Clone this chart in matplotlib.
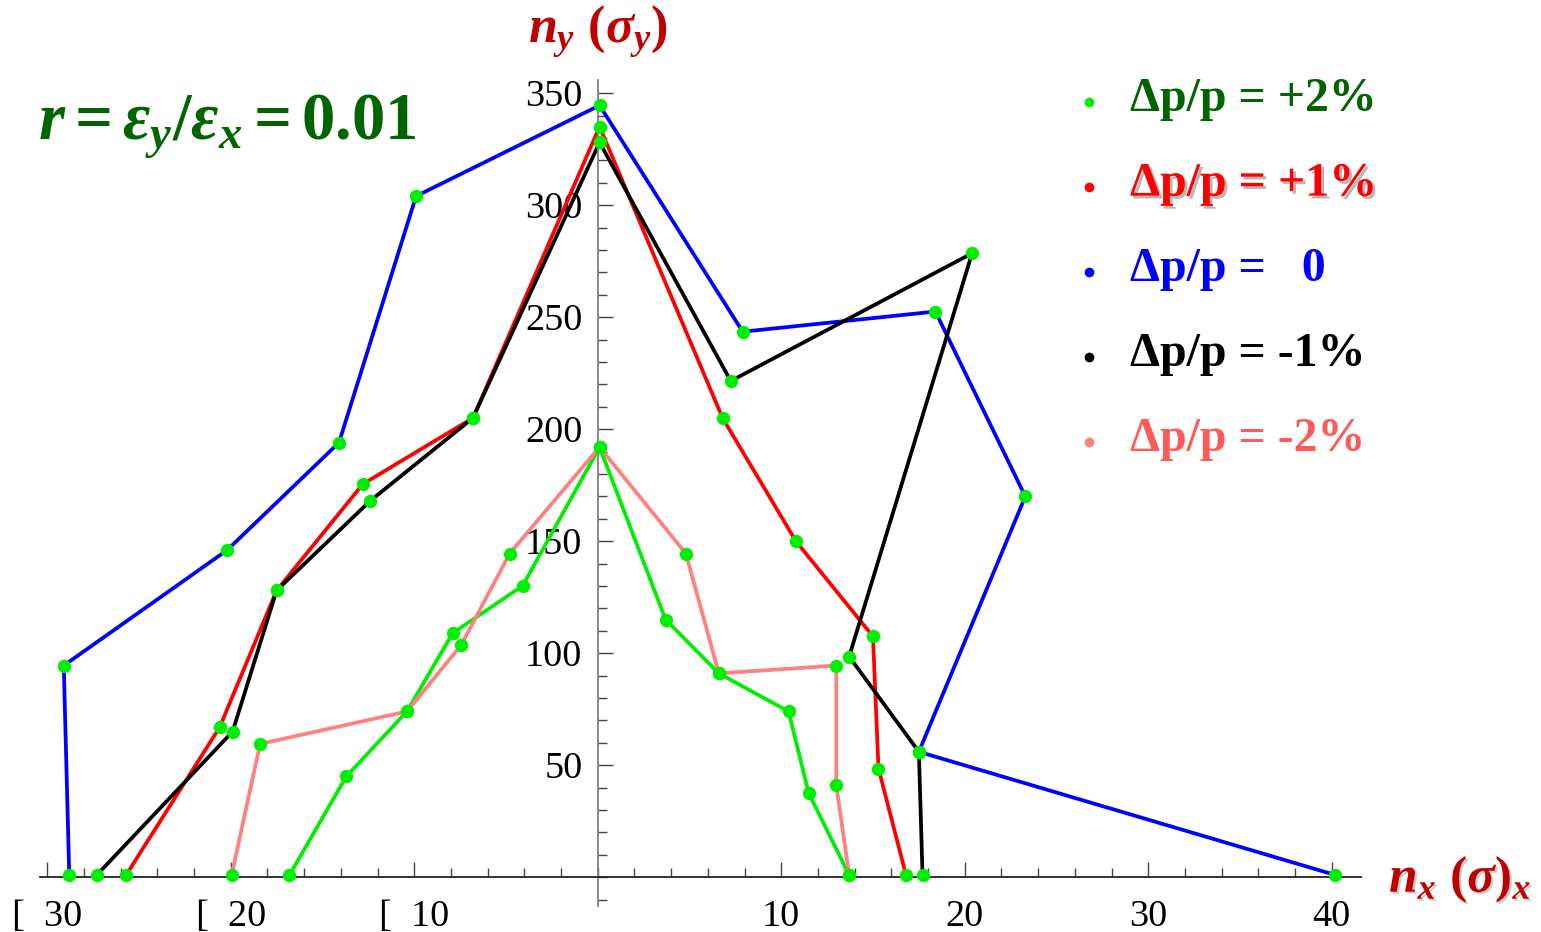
import matplotlib
matplotlib.use("Agg")
import matplotlib.pyplot as plt
import matplotlib.patheffects as pe
from matplotlib.ticker import MultipleLocator, FixedLocator

plt.rcParams["font.family"] = ["Liberation Serif", "DejaVu Serif"]
plt.rcParams["mathtext.fontset"] = "custom"
plt.rcParams["mathtext.rm"] = "Liberation Serif:bold"
plt.rcParams["mathtext.it"] = "Liberation Serif:bold:italic"
plt.rcParams["mathtext.bf"] = "Liberation Serif:bold"

# ---- data: dynamic aperture boundary (n_x, n_y) per momentum offset ---------
labels = ["Δp/p = +2%", "Δp/p = +1%", "Δp/p =   0", "Δp/p = -1%", "Δp/p = -2%"]

p2_x = [-16.8, -13.7, -10.4, -7.9, -4.1, 0.1, 3.7, 6.6, 10.4, 11.5, 13.7]
p2_y = [1, 45, 74, 109, 130, 192, 115, 91, 74, 37.5, 1]

p1_x = [-25.7, -20.6, -17.5, -12.8, -6.8, 0.1, 6.8, 10.8, 15.0, 15.3, 16.8]
p1_y = [1, 67, 128, 175.5, 205, 335, 205, 150, 107.5, 48.5, 1]

z0_x = [-28.8, -29.1, -20.2, -14.1, -9.9, 0.1, 7.9, 18.4, 23.3, 17.5, 40.2]
z0_y = [1, 94.5, 146, 194, 304, 344.5, 243.5, 252.5, 170, 56, 1]

m1_x = [-27.3, -19.9, -17.5, -12.4, -6.8, 0.1, 7.25, 20.4, 13.7, 17.5, 17.7]
m1_y = [1, 65, 128, 168, 205, 328, 221.5, 278.5, 98.5, 56, 1]

m2_x = [-19.95, -18.4, -10.4, -7.45, -4.8, 0.1, 4.8, 6.6, 13.0, 13.0, 13.7]
m2_y = [1, 59.5, 74, 103.5, 144.5, 192, 144.5, 91, 94.5, 41, 1]

series = [(p2_x, p2_y), (p1_x, p1_y), (z0_x, z0_y), (m1_x, m1_y), (m2_x, m2_y)]
line_colors = ["#00ee00", "#ff0000", "#0000ff", "#000000", "#ff8080"]
text_colors = ["#006400", "#ff0000", "#0000ff", "#000000", "#ff5a5a"]
draw_order = [2, 1, 3, 4, 0]

x_major = [-30, -20, -10, 10, 20, 30, 40]
x_labels = ["[  30", "[  20", "[  10", "10", "20", "30", "40"]
y_major = [50, 100, 150, 200, 250, 300, 350]

W, H = 1541, 932
fig = plt.figure(figsize=(W / 100, H / 100), dpi=100)
ax = fig.add_axes([39.9 / W, 25.6 / H, 1321.2 / W, 826.3 / H])
ax.set_xlim(-30.4, 41.6)
ax.set_ylim(-13, 355.8)

for i in draw_order:
    xs, ys = series[i]
    ax.plot(xs, ys, color=line_colors[i], lw=2.7, zorder=2 + i * 0.1,
            clip_on=False, solid_joinstyle="miter")
for xs, ys in series:
    ax.plot(xs, ys, ls="none", marker="o", ms=9.6, color="#00ee00",
            mec="none", zorder=5, clip_on=False)

# Mathematica-style crossing axes
for s in ("top", "right"):
    ax.spines[s].set_visible(False)
ax.spines["left"].set_position(("data", 0))
ax.spines["bottom"].set_position(("data", 0))
ax.spines["left"].set_color("#808080")
ax.spines["bottom"].set_color("#222222")
ax.spines["left"].set_linewidth(1.3)
ax.spines["bottom"].set_linewidth(1.3)

ax.xaxis.set_major_locator(FixedLocator(x_major))
ax.set_xticklabels(x_labels)
ax.xaxis.set_minor_locator(MultipleLocator(2))
ax.yaxis.set_major_locator(FixedLocator(y_major))
ax.yaxis.set_minor_locator(MultipleLocator(10))
ax.tick_params(which="both", direction="in", colors="#444444", width=1.0,
               labelsize=27.5, labelcolor="black")
ax.tick_params(which="major", length=11)
ax.tick_params(which="minor", length=6.5)
ax.tick_params(axis="x", which="major", pad=16)
ax.tick_params(axis="y", which="major", pad=11)

# axis titles
DARKRED = "#c00000"
fig.text(598 / W, 1 - 43 / H, r"$n_y\ (\sigma_y)$", ha="center", va="baseline",
         fontsize=37.5, color=DARKRED)
fig.text(1389 / W, 1 - 892 / H, r"$n_x\ (\sigma)_x$", ha="left", va="baseline",
         fontsize=37, color=DARKRED,
         path_effects=[pe.SimplePatchShadow(offset=(1.5, -1.5), shadow_rgbFace="#999999",
                                            alpha=0.5), pe.Normal()])

# ratio annotation
fig.text(38 / W, 1 - 140 / H, r"$r = \varepsilon_y/\varepsilon_x = 0.01$",
         ha="left", va="baseline", fontsize=48, color="#006400")

# legend
for k, (lab, lc, tc) in enumerate(zip(labels, line_colors, text_colors)):
    yd = 101.7 + 85 * k
    ax.plot([1089 / W], [1 - yd / H], marker="o", ms=7, color=lc, mec="none",
            transform=fig.transFigure, clip_on=False)
    effects = None
    if k == 1:
        effects = [pe.SimplePatchShadow(offset=(2, -2), shadow_rgbFace="#888888",
                                        alpha=0.6), pe.Normal()]
    fig.text(1130 / W, 1 - (yd + 9) / H, lab, ha="left", va="baseline",
             fontsize=34.5, fontweight="bold", color=tc, path_effects=effects)

fig.savefig("out.png", dpi=100, facecolor="white")
